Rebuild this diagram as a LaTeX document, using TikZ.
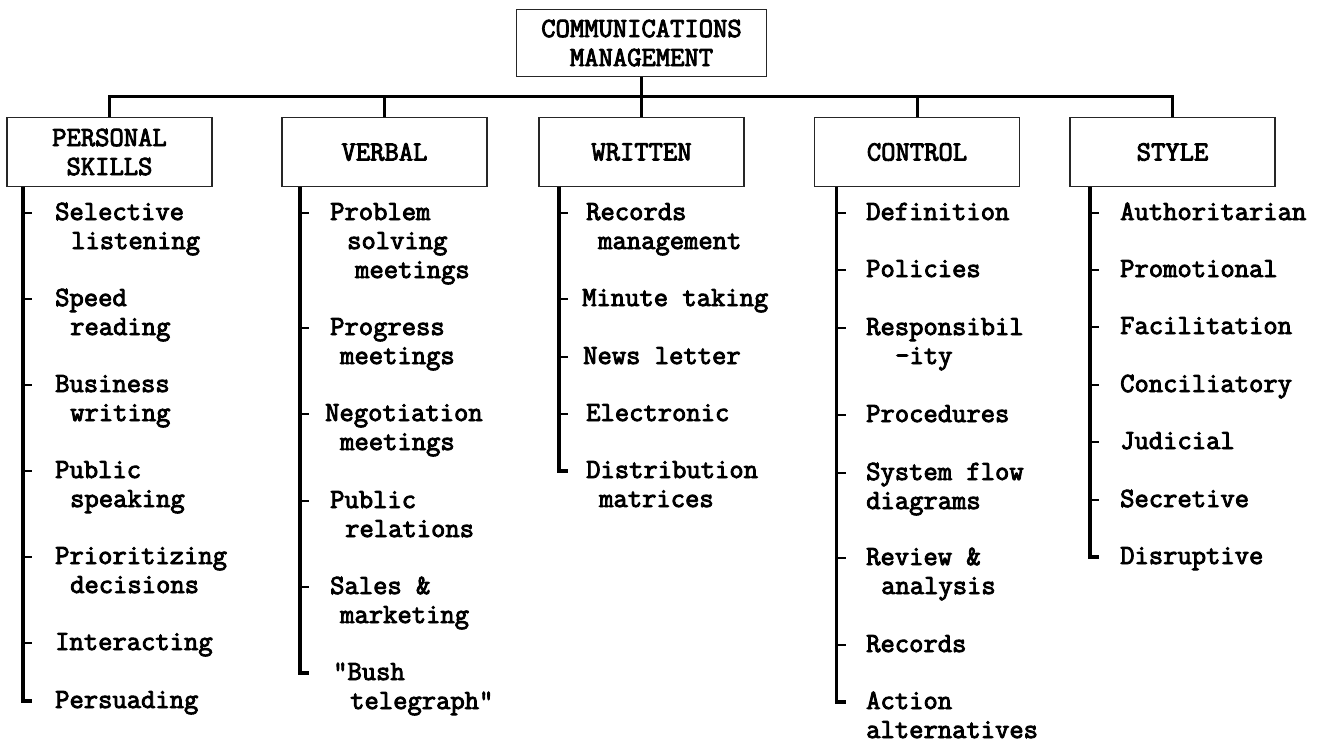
\documentclass[tikz,border=0pt]{standalone}
\usepackage{fontspec}
\setmonofont[AutoFakeBold=3.2]{Latin Modern Mono}
\usetikzlibrary{calc}
\newcommand\chartfont{\ttfamily\bfseries\fontsize{27.8}{29}\selectfont}
\newcommand\ind[1]{\hspace*{#1pt}}
\newcommand\firstline{\rule{0pt}{20.3pt}}
\tikzset{
  hdr/.style={draw=black!85, line width=1.6pt, minimum width=205pt,
    minimum height=69pt, inner sep=0pt, align=center, font=\chartfont},
  entry/.style={anchor=north west, inner sep=0pt, align=left, font=\chartfont},
  bus/.style={line width=3pt},
  spine/.style={line width=3.5pt},
  tick/.style={line width=1.5pt},
}
\begin{document}
\begin{tikzpicture}[x=1pt, y=-1pt]
\fill[white] (0,0) rectangle (1331,742);
\useasboundingbox (0,0) rectangle (1331,742);

% heading boxes
\node[hdr, minimum width=250pt, minimum height=67pt] (top) at (641.5,43) {COMMUNICATIONS\\MANAGEMENT};
\node[hdr] (pers) at (109.5,152) {PERSONAL\\SKILLS};
\node[hdr] (verb) at (384.5,152) {VERBAL};
\node[hdr] (writ) at (641.5,152) {WRITTEN};
\node[hdr] (ctrl) at (917,152) {CONTROL};
\node[hdr] (styl) at (1172.5,152) {STYLE};

% bus linking the headings
\draw[bus] (top.south) -- (writ.north);
\draw[bus] (pers.north) -- ++(0,-20) -| (styl.north);
\draw[bus] (verb.north) -- ++(0,-20);
\draw[bus] (ctrl.north) -- ++(0,-20);

% spine start points
\coordinate (spP) at ($(pers.south west)+(17,0)$);
\coordinate (spV) at ($(verb.south west)+(19,0)$);
\coordinate (spW) at ($(writ.south west)+(21,0)$);
\coordinate (spC) at ($(ctrl.south west)+(23,0)$);
\coordinate (spS) at ($(styl.south west)+(21,0)$);

% PERSONAL SKILLS
\foreach \n/\y/\t in {
  1/213/{Selective\\\ind{16}listening},
  2/299/{Speed\\\ind{15}reading},
  3/385/{Business\\\ind{15}writing},
  4/471/{Public\\\ind{15}speaking},
  5/557/{Prioritizing\\\ind{15}decisions},
  6/643/{Interacting},
  7/701/{Persuading}}{
  \node[entry] (P\n) at (55,\y-13.5) {\firstline\t};
  \draw[tick] ($(P\n.north west -| spP)+(0,13.5)$) -- ++(9,0);
}
\draw[spine] (spP) -- ($(P7.north west -| spP)+(0,13.5)$) -- ++(9,0);

% VERBAL
\foreach \n/\y/\t in {
  1/213/{Problem\\\ind{17}solving\\\ind{25}meetings},
  2/328/{Progress\\\ind{10}meetings},
  3/414/{\ind{-5}Negotiation\\\ind{10}meetings},
  4/501/{Public\\\ind{15}relations},
  5/587/{Sales \&\\\ind{10}marketing},
  6/673/{\ind{3}\char34Bush\\\ind{20}telegraph\char34}}{
  \node[entry] (V\n) at (330,\y-13.5) {\firstline\t};
  \draw[tick] ($(V\n.north west -| spV)+(0,13.5)$) -- ++(9,0);
}
\draw[spine] (spV) -- ($(V6.north west -| spV)+(0,13.5)$) -- ++(9,0);

% WRITTEN
\foreach \n/\y/\t in {
  1/213/{Records\\\ind{12}management},
  2/299/{\ind{-4}Minute taking},
  3/357/{\ind{-3}News letter},
  4/414/{Electronic},
  5/471/{Distribution\\\ind{13}matrices}}{
  \node[entry] (W\n) at (586,\y-13.5) {\firstline\t};
  \draw[tick] ($(W\n.north west -| spW)+(0,13.5)$) -- ++(9,0);
}
\draw[spine] (spW) -- ($(W5.north west -| spW)+(0,13.5)$) -- ++(9,0);

% CONTROL
\foreach \n/\y/\t in {
  1/213/{Definition},
  2/270/{Policies},
  3/328/{Responsibil\\\ind{29}-ity},
  4/415/{Procedures},
  5/473/{System flow\\diagrams},
  6/558/{Review \&\\\ind{15}analysis},
  7/645/{Records},
  8/702/{Action\\alternatives}}{
  \node[entry] (C\n) at (866,\y-13.5) {\firstline\t};
  \draw[tick] ($(C\n.north west -| spC)+(0,13.5)$) -- ++(9,0);
}
\draw[spine] (spC) -- ($(C8.north west -| spC)+(0,13.5)$) -- ++(9,0);

% STYLE
\foreach \n/\y/\t in {
  1/213/{Authoritarian},
  2/270/{Promotional},
  3/327/{Facilitation},
  4/385/{Conciliatory},
  5/442/{Judicial},
  6/500/{Secretive},
  7/557/{Disruptive}}{
  \node[entry] (S\n) at (1120,\y-13.5) {\firstline\t};
  \draw[tick] ($(S\n.north west -| spS)+(0,13.5)$) -- ++(9,0);
}
\draw[spine] (spS) -- ($(S7.north west -| spS)+(0,13.5)$) -- ++(9,0);
\end{tikzpicture}
\end{document}
